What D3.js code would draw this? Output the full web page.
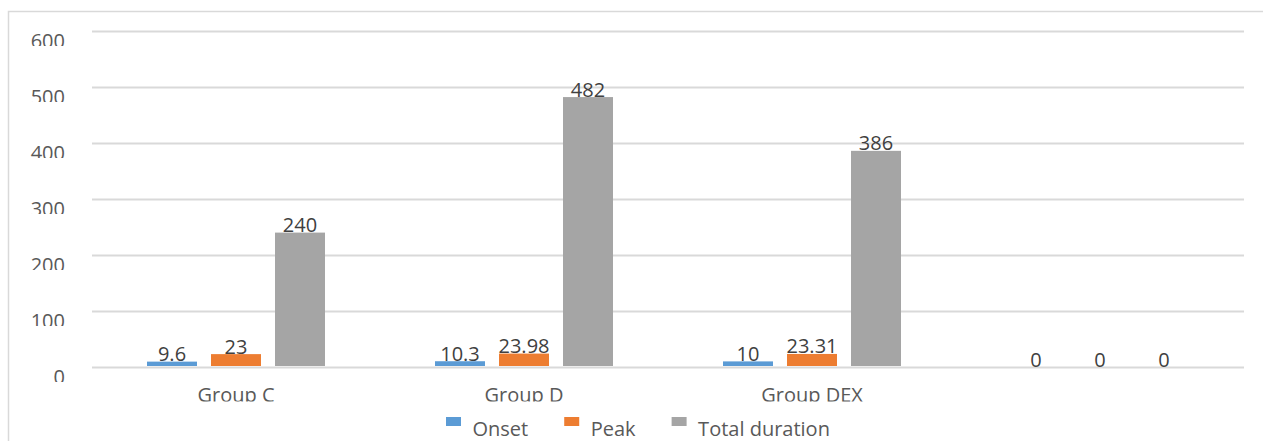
<!DOCTYPE html>
<html>
<head>
<meta charset="utf-8">
<script src="https://cdn.jsdelivr.net/npm/d3@7/dist/d3.min.js"></script>
<style>
  html, body { margin: 0; padding: 0; background: #fff; }
  svg { display: block; font-family: "Open Sans", "Noto Sans", sans-serif; }
</style>
</head>
<body>
<svg id="chart" width="1263" height="441"></svg>
<script>
// Chart data
const categories = ["Group C", "Group D", "Group DEX", ""];
const seriesNames = ["Onset", "Peak", "Total duration"];
const onset = [9.6, 10.3, 10, 0];
const peak = [23, 23.98, 23.31, 0];
const totalDuration = [240, 482, 386, 0];
const yTicks = [0, 100, 200, 300, 400, 500, 600];

const seriesValues = [onset, peak, totalDuration];
const colors = ["#5B9BD5", "#ED7D31", "#A5A5A5"];

const W = 1263, H = 441;
const plot = { left: 92, right: 1244, top: 31, bottom: 367 };

const svg = d3.select("#chart");
svg.append("rect").attr("width", W).attr("height", H).attr("fill", "#fff");

// chart frame
svg.append("rect")
  .attr("x", 8.5).attr("y", 11.5)
  .attr("width", W + 20).attr("height", H + 20)
  .attr("fill", "none").attr("stroke", "#D9D9D9").attr("stroke-width", 1.5);

const defs = svg.append("defs");
// text clips (trim the bottom of the glyphs)
defs.append("clipPath").attr("id", "clipY").attr("clipPathUnits", "userSpaceOnUse")
  .append("rect").attr("x", -100).attr("y", -30).attr("width", 200).attr("height", 44.5);
defs.append("clipPath").attr("id", "clipX").attr("clipPathUnits", "userSpaceOnUse")
  .append("rect").attr("x", -150).attr("y", 0).attr("width", 300).attr("height", 34.5);

const y = d3.scaleLinear().domain([0, 600]).range([plot.bottom, plot.top]);
const x0 = d3.scaleBand().domain(categories).range([plot.left, plot.right]).padding(0);
const x1 = d3.scaleBand().domain(seriesNames).range([55, 233]).paddingInner(0.21875).paddingOuter(0);

// gridlines
const grid = svg.append("g")
  .attr("transform", `translate(${plot.left},0)`)
  .call(d3.axisLeft(y).tickValues(yTicks).tickSize(-(plot.right - plot.left)).tickFormat(""));
grid.select(".domain").remove();
grid.selectAll(".tick line").attr("stroke", "#D9D9D9").attr("stroke-width", 2);

// y tick labels
const yAxis = svg.append("g")
  .attr("transform", `translate(${plot.left},0)`)
  .call(d3.axisLeft(y).tickValues(yTicks).tickSize(0).tickPadding(27));
yAxis.select(".domain").remove();
yAxis.selectAll(".tick text")
  .attr("dy", null).attr("y", 16)
  .attr("font-size", 20).attr("font-family", "Open Sans")
  .attr("fill", "#595959")
  .attr("clip-path", "url(#clipY)");

// category labels
const xAxis = svg.append("g")
  .attr("transform", `translate(0,${plot.bottom})`)
  .call(d3.axisBottom(x0).tickSize(0).tickPadding(0));
xAxis.select(".domain").remove();
xAxis.selectAll(".tick text")
  .attr("dy", null).attr("y", 35)
  .attr("font-size", 20).attr("font-family", "Open Sans")
  .attr("fill", "#595959")
  .attr("clip-path", "url(#clipX)");

// groups of bars
const rows = categories.map((c, i) => ({
  cat: c,
  vals: seriesNames.map((s, j) => ({ s, j, v: seriesValues[j][i] }))
}));

const groups = svg.append("g").selectAll("g").data(rows).join("g")
  .attr("transform", d => `translate(${x0(d.cat)},0)`);

// value labels
groups.selectAll("text").data(d => d.vals).join("text")
  .attr("x", d => x1(d.s) + x1.bandwidth() / 2)
  .attr("y", d => y(d.v) - 0.5)
  .attr("text-anchor", "middle")
  .attr("font-size", 20)
  .attr("fill", "#404040")
  .text(d => String(d.v));

// bars
groups.selectAll("rect").data(d => d.vals.filter(v => v.v > 0)).join("rect")
  .attr("x", d => x1(d.s))
  .attr("width", x1.bandwidth())
  .attr("y", d => y(d.v))
  .attr("height", d => y(0) - y(d.v) - 1)
  .attr("fill", d => colors[d.j]);

// legend
const legend = svg.append("g");
let lx = 446;
seriesNames.forEach((name, j) => {
  legend.append("rect")
    .attr("x", lx).attr("y", 417).attr("width", 15).attr("height", 9)
    .attr("fill", colors[j]);
  const t = legend.append("text")
    .attr("x", lx + 26.5).attr("y", 436)
    .attr("font-size", 20).attr("fill", "#595959")
    .text(name);
  lx += 26.5 + t.node().getComputedTextLength() + 36;
});
</script>
</body>
</html>
